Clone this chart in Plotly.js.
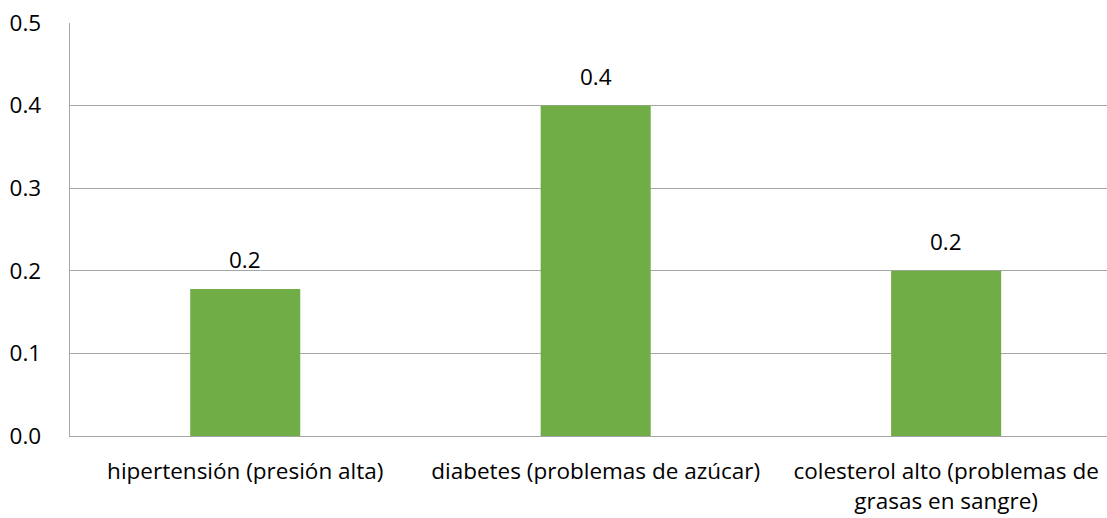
<!DOCTYPE html>
<html>
<head>
<meta charset="utf-8">
<script src="https://cdn.plot.ly/plotly-3.0.1.min.js"></script>
<style>html,body{margin:0;padding:0;background:#fff}#chart{width:1107px;height:518px}</style>
</head>
<body>
<div id="chart"></div>
<script>
const categories = ["hipertensión (presión alta)", "diabetes (problemas de azúcar)", "colesterol alto (problemas de<br>grasas en sangre)"];
const values = [0.178, 0.4, 0.2];
const yTicks = [0, 0.1, 0.2, 0.3, 0.4, 0.5];
const yTickLabels = ["0.0", "0.1", "0.2", "0.3", "0.4", "0.5"];

const font = {family: "Open Sans, Liberation Sans, sans-serif", size: 22.5, color: "#000"};

const trace = {
  type: "bar",
  x: categories,
  y: values,
  marker: {color: "#70ad47"},
  hoverinfo: "none"
};

const annotations = categories.map((c, i) => ({
  x: c, y: values[i], xref: "x", yref: "y",
  text: values[i].toFixed(1),
  showarrow: false, yanchor: "bottom", yshift: 12,
  font: font
}));

const layout = {
  width: 1107, height: 518,
  margin: {l: 70, r: 0, t: 23, b: 82, pad: 0},
  paper_bgcolor: "#fff", plot_bgcolor: "#fff",
  bargap: 0.686,
  showlegend: false,
  font: font,
  xaxis: {
    type: "category",
    range: [-0.5, 2.459],
    showgrid: false,
    showline: true, linecolor: "#a6a6a6", linewidth: 1.3,
    ticks: "", ticklabelstandoff: 15,
    tickfont: font, fixedrange: true
  },
  yaxis: {
    range: [0, 0.5],
    tickvals: yTicks, ticktext: yTickLabels,
    showgrid: true, gridcolor: "#a6a6a6", gridwidth: 1.3,
    showline: true, linecolor: "#a6a6a6", linewidth: 1.3,
    zeroline: false,
    ticks: "", ticklabelstandoff: 23,
    tickfont: font, fixedrange: true
  },
  annotations: annotations
};

Plotly.newPlot("chart", [trace], layout, {displayModeBar: false, staticPlot: true});
</script>
</body>
</html>
